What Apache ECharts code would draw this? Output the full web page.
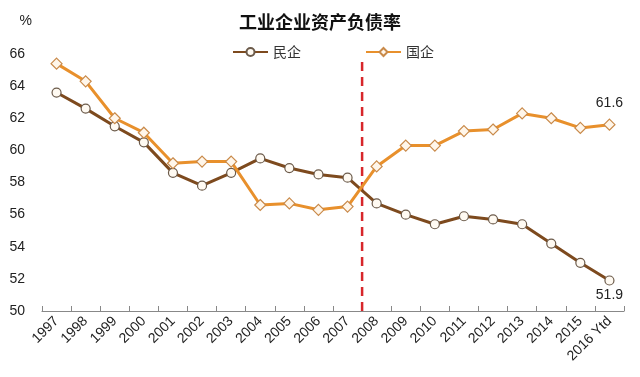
<!DOCTYPE html>
<html>
<head>
<meta charset="utf-8">
<script src="https://cdn.jsdelivr.net/npm/echarts@6/dist/echarts.min.js"></script>
<style>
    html, body { margin: 0; padding: 0; background: #fff; }
    #main { width: 640px; height: 377px; }
</style>
</head>
<body>
<div id="main"></div>
<script>
var years = ['1997', '1998', '1999', '2000', '2001', '2002', '2003', '2004', '2005', '2006',
    '2007', '2008', '2009', '2010', '2011', '2012', '2013', '2014', '2015', '2016 Ytd']
// 民企
var privateRatio = [63.6, 62.6, 61.5, 60.5, 58.6, 57.8, 58.6, 59.5, 58.9, 58.5,
    58.3, 56.7, 56.0, 55.4, 55.9, 55.7, 55.4, 54.2, 53.0, 51.9]
// 国企
var stateRatio = [65.4, 64.3, 62.0, 61.1, 59.2, 59.3, 59.3, 56.6, 56.7, 56.3,
    56.5, 59.0, 60.3, 60.3, 61.2, 61.3, 62.3, 62.0, 61.4, 61.6]
var yTicks = [50, 52, 54, 56, 58, 60, 62, 64, 66]
// 2007/2008 分界线 (category boundary index) 和上下端
var dividerAt = [[11, 50], [11, 65.7]]

function initChart() {
    var dom = document.getElementById('main')
    var chart = echarts.init(dom, null, {renderer: 'canvas'})
    var lastIdx = years.length - 1

    var option = {
        animation: false,
        backgroundColor: '#fff',
        title: {
            text: '工业企业资产负债率',
            left: 'center',
            top: 8,
            textStyle: {
                fontFamily: 'Noto Sans CJK SC',
                fontSize: 18,
                fontWeight: 'bold',
                color: '#111'
            }
        },
        legend: {
            top: 40,
            left: 227,
            itemWidth: 35,
            itemHeight: 10,
            itemGap: 64,
            data: ['民企', '国企'],
            textStyle: {
                fontFamily: 'Noto Sans CJK SC',
                fontSize: 14,
                color: '#333'
            }
        },
        grid: {
            left: 42,
            right: 16,
            top: 54,
            bottom: 66,
            containLabel: false
        },
        xAxis: [
            {
                type: 'category',
                data: years,
                boundaryGap: true,
                axisLine: {lineStyle: {color: '#888', width: 1.2}},
                axisTick: {show: true, inside: true, length: 5, lineStyle: {color: '#888'}},
                axisLabel: {
                    rotate: 45,
                    interval: 0,
                    margin: 8,
                    fontFamily: 'Liberation Sans',
                    fontSize: 14,
                    color: '#222'
                }
            },
            {
                type: 'value',
                min: 0,
                max: years.length,
                show: false
            }
        ],
        yAxis: {
            type: 'value',
            min: yTicks[0],
            max: yTicks[yTicks.length - 1],
            interval: 2,
            name: '%',
            nameLocation: 'end',
            nameGap: 26,
            nameTextStyle: {
                fontFamily: 'Liberation Sans',
                fontSize: 14,
                color: '#222',
                align: 'right',
                padding: [0, 10, 0, 0]
            },
            axisLine: {show: false},
            axisTick: {show: false},
            splitLine: {show: false},
            axisLabel: {
                margin: 17,
                fontFamily: 'Liberation Sans',
                fontSize: 14,
                color: '#222'
            }
        },
        series: [
            {
                name: '分界',
                type: 'line',
                xAxisIndex: 1,
                data: dividerAt,
                symbol: 'none',
                silent: true,
                lineStyle: {color: '#d7262b', width: 2.5, type: [9, 6]},
                z: 1
            },
            {
                name: '民企',
                type: 'line',
                data: privateRatio.map(function (v, i) {
                    if (i === lastIdx) {
                        return {value: v, label: {show: true, position: 'bottom', distance: 3}}
                    }
                    return v
                }),
                symbol: 'circle',
                symbolSize: 9,
                color: '#8a5424',
                lineStyle: {color: '#7d4a1e', width: 3},
                itemStyle: {color: '#fffaf2', borderColor: '#6b5a4a', borderWidth: 1.2},
                label: {
                    fontFamily: 'Liberation Sans',
                    fontSize: 14,
                    color: '#222'
                },
                z: 2
            },
            {
                name: '国企',
                type: 'line',
                data: stateRatio.map(function (v, i) {
                    if (i === lastIdx) {
                        return {value: v, label: {show: true, position: 'top', distance: 8}}
                    }
                    return v
                }),
                symbol: 'diamond',
                symbolSize: 11,
                color: '#e8902c',
                lineStyle: {color: '#e8902c', width: 3},
                itemStyle: {color: '#fff6ea', borderColor: '#c98a4a', borderWidth: 1.2},
                label: {
                    fontFamily: 'Liberation Sans',
                    fontSize: 14,
                    color: '#222'
                },
                z: 3
            }
        ]
    }
    chart.setOption(option)
}

initChart()
</script>
</body>
</html>
